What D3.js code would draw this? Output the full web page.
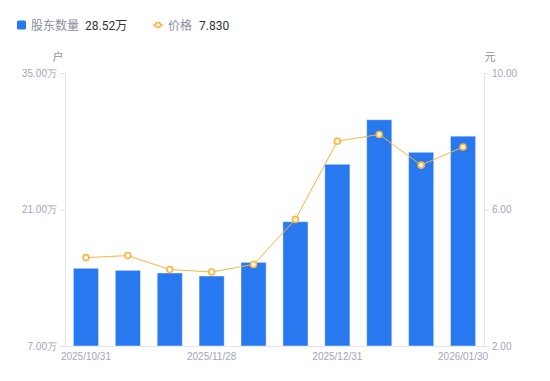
<!DOCTYPE html>
<html>
<head>
<meta charset="utf-8">
<script src="https://cdn.jsdelivr.net/npm/d3@7"></script>
<style>
  body { margin: 0; background: #fff; }
  svg { font-family: Roboto, "Noto Sans CJK SC", sans-serif; }
</style>
</head>
<body>
<div id="chart"></div>
<script>
(function () {
  "use strict";

  const dates = [
    "2025/10/31", "2025/11/10", "2025/11/20", "2025/11/28", "2025/12/10",
    "2025/12/19", "2025/12/31", "2026/01/09", "2026/01/20", "2026/01/30"
  ];
  const holders = [14.97, 14.76, 14.49, 14.18, 15.58, 19.75, 25.64, 30.21, 26.87, 28.52];
  const prices = [4.59, 4.65, 4.24, 4.17, 4.39, 5.71, 8.0, 8.2, 7.3, 7.83];
  const leftTicks = [7, 21, 35];
  const rightTicks = [2, 6, 10];
  const shownDates = ["2025/10/31", "2025/11/28", "2025/12/31", "2026/01/30"];

  const width = 550;
  const height = 381;
  const margin = { top: 73, right: 66, bottom: 35, left: 65 };

  const svg = d3.select("#chart")
    .append("svg")
    .attr("width", width)
    .attr("height", height);

  const x = d3.scaleBand()
    .domain(dates)
    .range([margin.left, width - margin.right])
    .paddingInner(0.4)
    .paddingOuter(0.2);

  const yLeft = d3.scaleLinear()
    .domain([7, 35])
    .range([height - margin.bottom, margin.top]);

  const yRight = d3.scaleLinear()
    .domain([2, 10])
    .range([height - margin.bottom, margin.top]);

  const axisColor = "#e3e4e8";
  const labelColor = "#a3a6b8";

  // left axis
  const gl = svg.append("g")
    .attr("transform", `translate(${margin.left},0)`)
    .call(d3.axisLeft(yLeft).tickValues(leftTicks).tickSize(5).tickPadding(3)
      .tickFormat((d) => d.toFixed(2) + "万"));
  gl.select(".domain").attr("stroke", axisColor);
  gl.selectAll(".tick line").attr("stroke", axisColor);
  gl.selectAll(".tick text").attr("fill", labelColor).style("font-size", "10px");

  // right axis
  const gr = svg.append("g")
    .attr("transform", `translate(${width - margin.right},0)`)
    .call(d3.axisRight(yRight).tickValues(rightTicks).tickSize(5).tickPadding(3)
      .tickFormat((d) => d.toFixed(2)));
  gr.select(".domain").attr("stroke", axisColor);
  gr.selectAll(".tick line").attr("stroke", axisColor);
  gr.selectAll(".tick text").attr("fill", labelColor).style("font-size", "10px");

  // bottom axis
  const gb = svg.append("g")
    .attr("transform", `translate(0,${height - margin.bottom})`)
    .call(d3.axisBottom(x).tickValues(shownDates).tickSize(0).tickPadding(7));
  gb.select(".domain").attr("stroke", axisColor);
  gb.selectAll(".tick text").attr("fill", labelColor).style("font-size", "10px");

  // units
  svg.append("text")
    .attr("x", 58).attr("y", 61)
    .attr("text-anchor", "middle")
    .attr("fill", "#8e91a3")
    .style("font-size", "11px")
    .text("户");
  svg.append("text")
    .attr("x", 490).attr("y", 61)
    .attr("text-anchor", "middle")
    .attr("fill", "#8e91a3")
    .style("font-size", "11px")
    .text("元");

  // bars
  svg.append("g")
    .selectAll("rect")
    .data(holders)
    .join("rect")
    .attr("x", (d, i) => x(dates[i]))
    .attr("y", (d) => yLeft(d))
    .attr("width", x.bandwidth())
    .attr("height", (d) => yLeft(7) - yLeft(d))
    .attr("fill", "#2878f0")
    .attr("stroke", "rgba(255,255,255,0.45)")
    .attr("stroke-width", 1);

  // price line
  const line = d3.line()
    .x((d, i) => x(dates[i]) + x.bandwidth() / 2)
    .y((d) => yRight(d));

  svg.append("path")
    .datum(prices)
    .attr("d", line)
    .attr("fill", "none")
    .attr("stroke", "#fbb43c")
    .attr("stroke-width", 1);

  svg.append("g")
    .selectAll("circle")
    .data(prices)
    .join("circle")
    .attr("cx", (d, i) => x(dates[i]) + x.bandwidth() / 2)
    .attr("cy", (d) => yRight(d))
    .attr("r", 3)
    .attr("fill", "#fff6e6")
    .attr("stroke", "#fbb43c")
    .attr("stroke-width", 1.6);

  // legend
  const legend = svg.append("g").style("font-size", "12px");
  legend.append("rect")
    .attr("x", 17).attr("y", 20.5)
    .attr("width", 9).attr("height", 9)
    .attr("rx", 1.5)
    .attr("fill", "#2878f0");
  legend.append("text")
    .attr("x", 31).attr("y", 29.5)
    .attr("fill", "#8a8d9f")
    .text("股东数量");
  legend.append("text")
    .attr("x", 85).attr("y", 29.5)
    .attr("fill", "#333")
    .text(holders[holders.length - 1].toFixed(2) + "万");

  legend.append("line")
    .attr("x1", 153).attr("x2", 163)
    .attr("y1", 25).attr("y2", 25)
    .attr("stroke", "#fbb43c")
    .attr("stroke-width", 1.5);
  legend.append("circle")
    .attr("cx", 158).attr("cy", 25)
    .attr("r", 2.5)
    .attr("fill", "#fff")
    .attr("stroke", "#fbb43c")
    .attr("stroke-width", 1.5);
  legend.append("text")
    .attr("x", 168).attr("y", 29.5)
    .attr("fill", "#8a8d9f")
    .text("价格");
  legend.append("text")
    .attr("x", 199).attr("y", 29.5)
    .attr("fill", "#333")
    .text(prices[prices.length - 1].toFixed(3));
})();
</script>
</body>
</html>
